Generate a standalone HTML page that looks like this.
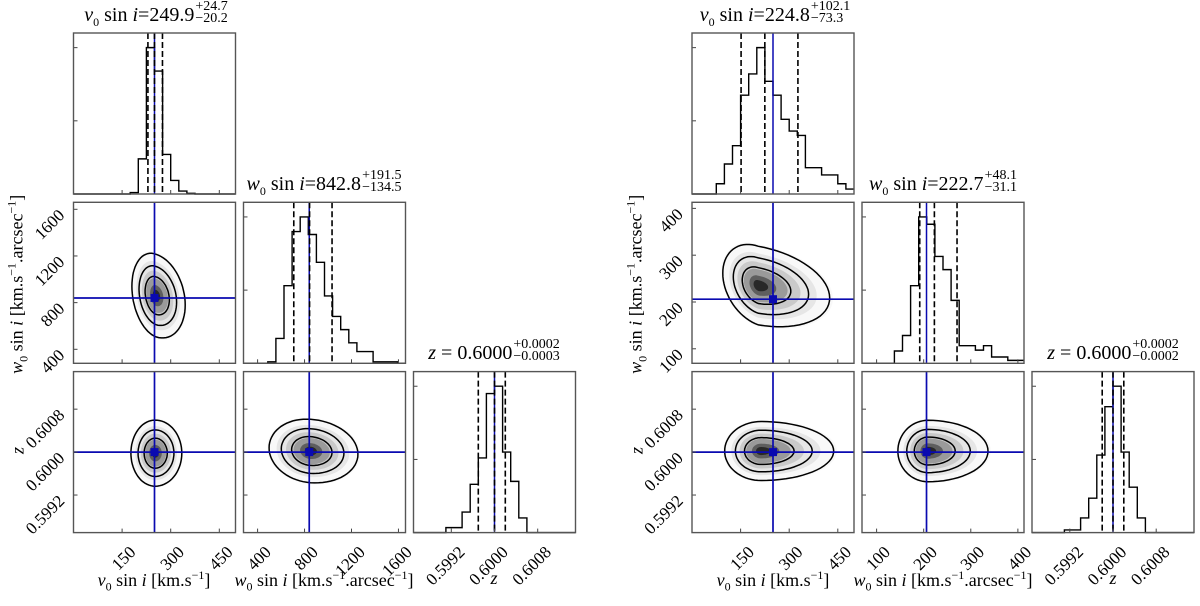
<!DOCTYPE html>
<html><head><meta charset="utf-8">
<style>
body{margin:0;background:#fff;}
#wrap{position:relative;width:1200px;height:606px;overflow:hidden;font-family:"Liberation Serif",serif;color:#000;}
svg{position:absolute;left:0;top:0;}
.title{position:absolute;width:220px;text-align:center;font-size:20px;line-height:22px;white-space:nowrap;}
.ss{display:inline-flex;flex-direction:column;vertical-align:middle;font-size:14px;line-height:12px;text-align:left;margin-left:1px;position:relative;top:-3px;}
.xlab{position:absolute;width:220px;text-align:center;font-size:18px;white-space:nowrap;}
.ylab{position:absolute;width:240px;text-align:center;font-size:18px;white-space:nowrap;transform:rotate(-90deg);transform-origin:center;}
sub{font-size:12px;}
sup{font-size:12px;}
</style></head>
<body>
<div id="wrap">
<svg id="svg" width="1200" height="606"></svg>

<div class="title" style="left:46px;top:4px;"><i>v</i><sub>0</sub> sin <i>i</i>=249.9<span class="ss"><span>+24.7</span><span>−20.2</span></span></div>
<div class="title" style="left:214px;top:173px;"><i>w</i><sub>0</sub> sin <i>i</i>=842.8<span class="ss"><span>+191.5</span><span>−134.5</span></span></div>
<div class="title" style="left:384px;top:342px;"><i>z</i> = 0.6000<span class="ss"><span>+0.0002</span><span>−0.0003</span></span></div>

<div class="title" style="left:665px;top:4px;"><i>v</i><sub>0</sub> sin <i>i</i>=224.8<span class="ss"><span>+102.1</span><span>−73.3</span></span></div>
<div class="title" style="left:833px;top:173px;"><i>w</i><sub>0</sub> sin <i>i</i>=222.7<span class="ss"><span>+48.1</span><span>−31.1</span></span></div>
<div class="title" style="left:1003px;top:342px;"><i>z</i> = 0.6000<span class="ss"><span>+0.0002</span><span>−0.0002</span></span></div>

<div class="xlab" style="left:44px;top:568px;"><i>v</i><sub>0</sub> sin <i>i</i> [km.s<sup>−1</sup>]</div>
<div class="xlab" style="left:214px;top:568px;"><i>w</i><sub>0</sub> sin <i>i</i> [km.s<sup>−1</sup>.arcsec<sup>−1</sup>]</div>
<div class="xlab" style="left:384px;top:568px;"><i>z</i></div>
<div class="xlab" style="left:663px;top:568px;"><i>v</i><sub>0</sub> sin <i>i</i> [km.s<sup>−1</sup>]</div>
<div class="xlab" style="left:833px;top:568px;"><i>w</i><sub>0</sub> sin <i>i</i> [km.s<sup>−1</sup>.arcsec<sup>−1</sup>]</div>
<div class="xlab" style="left:1003px;top:568px;"><i>z</i></div>

<div class="ylab" style="left:-102px;top:271px;"><i>w</i><sub>0</sub> sin <i>i</i> [km.s<sup>−1</sup>.arcsec<sup>−1</sup>]</div>
<div class="ylab" style="left:-102px;top:440px;"><i>z</i></div>
<div class="ylab" style="left:517px;top:271px;"><i>w</i><sub>0</sub> sin <i>i</i> [km.s<sup>−1</sup>.arcsec<sup>−1</sup>]</div>
<div class="ylab" style="left:517px;top:440px;"><i>z</i></div>
</div>

<script>
// ---------- data ----------
const figLeftX = [73.5, 692];
const rangesL = [[0,500],[280,1660],[0.5985,0.6015]];
const rangesR = [[0,500],[69,413],[0.5985,0.6015]];
const ticksL = [[150,300,450],[400,800,1200,1600],[0.5992,0.6000,0.6008]];
const ticksR = [[150,300,450],[100,200,300,400],[0.5992,0.6000,0.6008]];
const tickLabelsL = [["150","300","450"],["400","800","1200","1600"],["0.5992","0.6000","0.6008"]];
const tickLabelsR = [["150","300","450"],["100","200","300","400"],["0.5992","0.6000","0.6008"]];
const truthL = [250, 840, 0.6000];
const truthR = [250, 206, 0.6000];
const medL = [249.9, 842.8, 0.6000];
const plusL = [24.7, 191.5, 0.0002];
const minusL = [20.2, 134.5, 0.0003];
const medR = [224.8, 222.7, 0.6000];
const plusR = [102.1, 48.1, 0.0002];
const minusR = [73.3, 31.1, 0.0002];
// histograms, 20 bins each (relative heights)
const histL_v0 = [0,0,0,0,0,0,0,0.01,0.24,1.0,0.84,0.27,0.093,0.02,0.005,0,0,0,0,0];
const histL_w0 = [0,0,0,0.01,0.17,0.53,0.90,1.0,0.88,0.69,0.46,0.32,0.23,0.14,0.08,0.08,0.01,0.01,0.01,0];
const histL_z  = [0,0,0,0,0.034,0.034,0.14,0.33,0.51,0.95,1.0,0.55,0.35,0.10,0,0,0,0,0,0];
const histR_v0 = [0,0,0,0.07,0.205,0.33,0.675,0.82,1.0,0.77,0.675,0.51,0.43,0.40,0.18,0.18,0.13,0.13,0.07,0.034];
const histR_w0 = [0,0,0,0,0.084,0.19,0.53,1.0,0.95,0.73,0.64,0.43,0.12,0.12,0.09,0.12,0.043,0.043,0.02,0.02];
const histR_z  = [0,0,0,0,0.018,0.018,0.10,0.235,0.53,0.86,1.0,0.55,0.31,0.10,0,0,0,0,0,0];
// 2D blobs: [cx, cy, sx, sy, rho, tail]
const blobL_v0w0 = [255, 860, 34, 165, -0.22, 1.2];
const blobL_v0z  = [252, 0.59998, 34, 0.00028, 0, 1.1];
const blobL_w0z  = [850, 0.60002, 160, 0.00027, -0.1, 1.15];
const blobR_v0w0 = [205, 235, 50, 40, -0.3, 2.0];
const blobR_v0z  = [213, 0.60002, 51, 0.00025, 0, 2.0];
const blobR_w0z  = [209, 0.60002, 29, 0.00026, 0, 2.0];
const contourLevels = [1.0, 1.55, 2.2];
const fillLevels = [2.3, 1.8, 1.3, 0.9, 0.55, 0.3];
const fillGrays = ["#f8f8f8","#e6e6e6","#cacaca","#9a9a9a","#5e5e5e","#282828"];

// ---------- drawing ----------
const NS = "http://www.w3.org/2000/svg";
const svg = document.getElementById('svg');
const PW = 162, PH = 161, STEPX = 170, STEPY = 169.3, TOP0 = 33;
const BLUE = '#0a0ab0';
function mk(tag, attrs, parent){
  const e = document.createElementNS(NS, tag);
  for (const k in attrs) e.setAttribute(k, attrs[k]);
  (parent||svg).appendChild(e);
  return e;
}
let clipId = 0;
function panelGeom(f, c, r){ return {x: figLeftX[f] + c*STEPX, y: TOP0 + r*STEPY}; }
function sx(g, rng, v){ return g.x + (v - rng[0])/(rng[1]-rng[0])*PW; }
function sy(g, rng, v){ return g.y + PH - (v - rng[0])/(rng[1]-rng[0])*PH; }

function drawTicks(grp, g, xr, xt, yr, yt){
  if (xt) xt.forEach(t => {
    const X = sx(g, xr, t);
    const l = mk('line', {x1:X, x2:X, y1:g.y+PH, y2:g.y+PH-4, stroke:'#444', 'stroke-width':1}, grp);
    
    
  });
  if (yt) yt.forEach(t => {
    const Y = sy(g, yr, t);
    const l = mk('line', {x1:g.x, x2:g.x+4, y1:Y, y2:Y, stroke:'#444', 'stroke-width':1}, grp);
    
    
  });
}
function drawBox(grp, g){
  const b = mk('rect', {x:g.x, y:g.y, width:PW, height:PH, fill:'none', stroke:'#555', 'stroke-width':1.4}, grp);
  
  
}
function xTickLabels(grp, g, xr, xt, labels){
  xt.forEach((t,i) => {
    const X = sx(g, xr, t) + 6, Y = g.y + PH + 12;
    const tx = mk('text', {x:X, y:Y, 'text-anchor':'end', 'font-size':17, 'font-family':'Liberation Serif, serif', transform:`rotate(-45 ${X} ${Y})`, 'dominant-baseline':'hanging'}, grp);
    tx.textContent = labels[i];
    
    
  });
}
function yTickLabels(grp, g, yr, yt, labels){
  yt.forEach((t,i) => {
    const X = g.x - 8, Y = sy(g, yr, t) + 7;
    const tx = mk('text', {x:X, y:Y, 'text-anchor':'end', 'font-size':17, 'font-family':'Liberation Serif, serif', transform:`rotate(-45 ${X} ${Y})`}, grp);
    tx.textContent = labels[i];
    
    
  });
}

function drawHist(f, idx, hist, rng, ticks, med, plus, minus, truth, showXLabels, labels){
  const g = panelGeom(f, idx, idx);
  const grp = mk('g', {});
  
  
  const n = hist.length, bw = (rng[1]-rng[0])/n;
  const maxH = Math.max(...hist);
  const yr = [0, maxH*1.1];
  let d = '';
  for (let i=0;i<n;i++){
    const x0 = sx(g, rng, rng[0]+i*bw), x1 = sx(g, rng, rng[0]+(i+1)*bw);
    const Y = sy(g, yr, hist[i]);
    d += (i===0 ? `M${x0},${Y}` : `L${x0},${Y}`) + `L${x1},${Y}`;
  }
  const p = mk('path', {d:d, fill:'none', stroke:'#000', 'stroke-width':1.4}, grp);
  
  
  const TX = sx(g, rng, truth);
  const tl = mk('line', {x1:TX, x2:TX, y1:g.y, y2:g.y+PH, stroke:BLUE, 'stroke-width':1.5}, grp);
  
  
  const qs = [med - minus, med, med + plus];
  qs.forEach(v => {
    const X = sx(g, rng, v);
    const l = mk('line', {x1:X, x2:X, y1:g.y, y2:g.y+PH, stroke:'#000', 'stroke-width':1.6, 'stroke-dasharray':'6,3'}, grp);
    
    
  });
  drawTicks(grp, g, rng, ticks, yr, [maxH*0.5, maxH]);
  drawBox(grp, g);
  if (showXLabels) xTickLabels(grp, g, rng, ticks, labels);
}

function blobPath(g, xr, yr, b, k){
  const [cx, cy, sxd, syd, rho, tail] = b;
  let d = '';
  for (let i=0;i<=72;i++){
    const t = i/72*2*Math.PI, u = Math.cos(t), v = Math.sin(t);
    const xv = cx + k*sxd*u*(u>0?tail:1);
    const yv = cy + k*syd*(rho*u + Math.sqrt(1-rho*rho)*v);
    d += (i===0?'M':'L') + sx(g,xr,xv).toFixed(1) + ',' + sy(g,yr,yv).toFixed(1);
  }
  return d + 'Z';
}

function draw2D(f, c, r, xr, yr, xt, yt, b, tx, ty, showX, showY, xl, yl){
  const g = panelGeom(f, c, r);
  const grp = mk('g', {});
  
  
  const id = 'clip' + (clipId++);
  const cp = mk('clipPath', {id:id}, grp);
  mk('rect', {x:g.x, y:g.y, width:PW, height:PH}, cp);
  const inner = mk('g', {'clip-path':`url(#${id})`}, grp);
  fillLevels.forEach((k,i) => {
    const p = mk('path', {d:blobPath(g,xr,yr,b,k), fill:fillGrays[i], stroke:'none'}, inner);
    
    
  });
  contourLevels.forEach(k => {
    const p = mk('path', {d:blobPath(g,xr,yr,b,k), fill:'none', stroke:'#000', 'stroke-width':1.5}, inner);
    
    
  });
  const X = sx(g,xr,tx), Y = sy(g,yr,ty);
  const vl = mk('line', {x1:X, x2:X, y1:g.y, y2:g.y+PH, stroke:BLUE, 'stroke-width':1.7}, inner);
  
  
  const hl = mk('line', {x1:g.x, x2:g.x+PW, y1:Y, y2:Y, stroke:BLUE, 'stroke-width':1.7}, inner);
  
  
  const m = mk('rect', {x:X-4, y:Y-4, width:8, height:8, fill:BLUE}, inner);
  
  
  drawTicks(grp, g, xr, xt, yr, yt);
  drawBox(grp, g);
  if (showX) xTickLabels(grp, g, xr, xt, xl);
  if (showY) yTickLabels(grp, g, yr, yt, yl);
}

function drawFigure(f, R, T, TL, truth, med, plus, minus, hists, blobs){
  for (let i=0;i<3;i++) drawHist(f, i, hists[i], R[i], T[i], med[i], plus[i], minus[i], truth[i], i===2, TL[i]);
  draw2D(f, 0, 1, R[0], R[1], T[0], T[1], blobs[0], truth[0], truth[1], false, true, TL[0], TL[1]);
  draw2D(f, 0, 2, R[0], R[2], T[0], T[2], blobs[1], truth[0], truth[2], true, true, TL[0], TL[2]);
  draw2D(f, 1, 2, R[1], R[2], T[1], T[2], blobs[2], truth[1], truth[2], true, false, TL[1], TL[2]);
}
drawFigure(0, rangesL, ticksL, tickLabelsL, truthL, medL, plusL, minusL, [histL_v0, histL_w0, histL_z], [blobL_v0w0, blobL_v0z, blobL_w0z]);
drawFigure(1, rangesR, ticksR, tickLabelsR, truthR, medR, plusR, minusR, [histR_v0, histR_w0, histR_z], [blobR_v0w0, blobR_v0z, blobR_w0z]);
</script>
</body></html>
